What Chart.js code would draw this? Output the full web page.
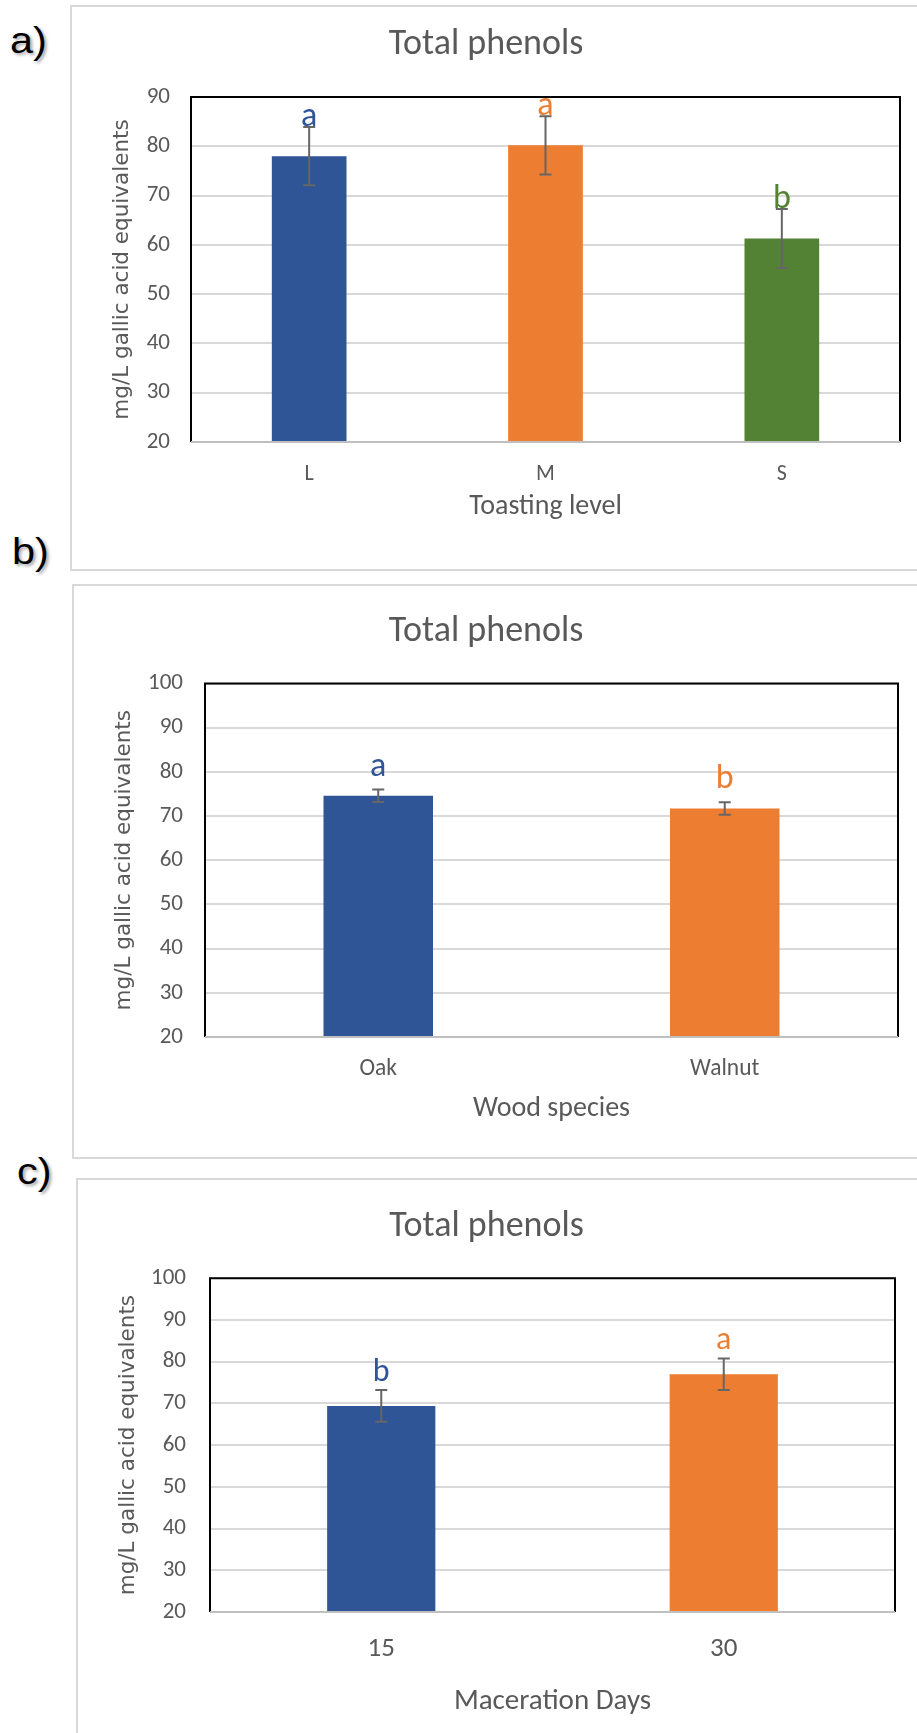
<!DOCTYPE html>
<html>
<head>
<meta charset="utf-8">
<script src="https://cdn.jsdelivr.net/npm/chart.js@4.4.1/dist/chart.umd.min.js"></script>
<style>
  body { margin: 0; width: 917px; height: 1733px; overflow: hidden; background: #fff; position: relative; }
  .frame { position: absolute; border: 2px solid #d9d9d9; box-sizing: border-box; }
  .tag { position: absolute; font-family: Arial, 'Liberation Sans', sans-serif; font-size: 37px; line-height: 1; color: #000;
         text-shadow: 2px 2px 3px rgba(0,0,0,0.35); transform: scaleX(1.12); transform-origin: left top; }
  .holder { position: absolute; }
</style>
</head>
<body>
<div class="frame" style="left:70px;top:5px;width:900px;height:566px"></div>
<div class="frame" style="left:72px;top:584px;width:900px;height:575px"></div>
<div class="frame" style="left:76px;top:1178px;width:900px;height:600px"></div>

<div class="tag" style="left:10px;top:22px">a)</div>
<div class="tag" style="left:12px;top:533px">b)</div>
<div class="tag" style="left:17px;top:1153px">c)</div>

<div class="holder" style="left:72px;top:9px;width:845px;height:560px"><canvas id="chartA"></canvas></div>
<div class="holder" style="left:74px;top:586px;width:843px;height:572px"><canvas id="chartB"></canvas></div>
<div class="holder" style="left:78px;top:1180px;width:839px;height:553px"><canvas id="chartC"></canvas></div>

<script>
// a) toasting level
const toastLevels = ['L', 'M', 'S'];
const toastMeans = [78.0, 80.2, 61.3];
const toastErrors = [5.9, 5.9, 6.0];
const toastLetters = ['a', 'a', 'b'];
const toastTicks = [20, 90, 10];

// b) wood species
const woodSpecies = ['Oak', 'Walnut'];
const woodMeans = [74.6, 71.7];
const woodErrors = [1.4, 1.4];
const woodLetters = ['a', 'b'];
const woodTicks = [20, 100, 10];

// c) maceration days
const macerationDays = ['15', '30'];
const macerationMeans = [69.4, 77.0];
const macerationErrors = [3.8, 3.8];
const macerationLetters = ['b', 'a'];
const macerationTicks = [20, 100, 10];

const barColors = ['#2f5597', '#ed7d31', '#548235'];

const narrow = "Carlito, 'Liberation Sans Narrow', 'Open Sans', sans-serif";
const grey = '#595959';

// error bars + significance letters + plot frame
const extras = {
  id: 'extras',
  afterDatasetsDraw(chart, args, opts) {
    const ctx = chart.ctx;
    const y = chart.scales.y;
    const meta = chart.getDatasetMeta(0);
    const ds = chart.data.datasets[0];
    ctx.save();
    meta.data.forEach((bar, i) => {
      const v = ds.data[i], e = opts.errors[i];
      const top = y.getPixelForValue(v + e);
      const bot = y.getPixelForValue(v - e);
      ctx.strokeStyle = '#666666';
      ctx.lineWidth = 2;
      ctx.beginPath();
      ctx.moveTo(bar.x, top); ctx.lineTo(bar.x, bot);
      ctx.moveTo(bar.x - 6, top); ctx.lineTo(bar.x + 6, top);
      ctx.moveTo(bar.x - 6, bot); ctx.lineTo(bar.x + 6, bot);
      ctx.stroke();
      ctx.fillStyle = barColors[i];
      ctx.font = opts.letterFont;
      ctx.textAlign = 'center';
      ctx.textBaseline = 'alphabetic';
      ctx.fillText(opts.letters[i], bar.x, top - opts.letterGap);
    });
    const a = chart.chartArea;
    ctx.lineWidth = 2;
    ctx.strokeStyle = '#000';
    ctx.beginPath();
    ctx.moveTo(a.left, a.bottom); ctx.lineTo(a.left, a.top);
    ctx.lineTo(a.right, a.top); ctx.lineTo(a.right, a.bottom);
    ctx.stroke();
    ctx.strokeStyle = '#bfbfbf';
    ctx.beginPath();
    ctx.moveTo(a.left, a.bottom); ctx.lineTo(a.right, a.bottom);
    ctx.stroke();
    ctx.restore();
  }
};

function makeChart(id, labels, means, errors, letters, ticks, xTitle, lay) {
  return new Chart(document.getElementById(id), {
    type: 'bar',
    data: {
      labels: labels,
      datasets: [{
        data: means,
        backgroundColor: barColors.slice(0, labels.length),
        categoryPercentage: 1,
        barPercentage: 0.316
      }]
    },
    options: {
      responsive: true,
      maintainAspectRatio: false,
      animation: false,
      layout: { padding: { left: 0, top: 0, right: lay.padRight, bottom: lay.padBottom } },
      plugins: {
        legend: { display: false },
        tooltip: { enabled: false },
        title: {
          display: true,
          text: 'Total phenols',
          color: grey,
          font: { family: narrow, size: 36, weight: 'normal', lineHeight: 1.2 },
          padding: { top: lay.titleTop, bottom: 30.2 }
        },
        extras: {
          errors: errors, letters: letters,
          letterFont: lay.letterSize + 'px ' + narrow, letterGap: lay.letterGap
        }
      },
      scales: {
        x: {
          grid: { display: false, drawTicks: false },
          border: { display: false },
          ticks: { color: grey, padding: lay.xTickPad, font: { family: narrow, size: lay.xTickSize } },
          title: {
            display: true, text: xTitle, color: grey,
            font: { family: narrow, size: lay.xTitleSize, lineHeight: 1.2 },
            padding: { top: 0, bottom: lay.xTitlePad }
          },
          afterFit(s) { s.height = lay.xHeight; }
        },
        y: {
          min: ticks[0], max: ticks[1],
          grid: { color: '#d9d9d9', lineWidth: 2, drawTicks: false },
          border: { display: false },
          ticks: { stepSize: ticks[2], color: grey, padding: lay.yTickPad, font: { family: narrow, size: 23 } },
          title: {
            display: true, text: 'mg/L gallic acid equivalents', color: grey,
            font: { family: "'DejaVu Sans', sans-serif", size: 21.5, lineHeight: 1.2 },
            padding: { top: lay.yTitlePad, bottom: 0 }
          },
          afterFit(s) { s.width = lay.yWidth; }
        }
      }
    },
    plugins: [extras]
  });
}

makeChart('chartA', toastLevels, toastMeans, toastErrors, toastLetters, toastTicks, 'Toasting level', {
  padRight: 17, padBottom: 27, titleTop: 14.6,
  xHeight: 100, xTickPad: 19, xTickSize: 22, xTitleSize: 28, xTitlePad: 18,
  yWidth: 119, yTickPad: 21, yTitlePad: 38, letterSize: 34, letterGap: 1
});

makeChart('chartB', woodSpecies, woodMeans, woodErrors, woodLetters, woodTicks, 'Wood species', {
  padRight: 19, padBottom: 21, titleTop: 24.1,
  xHeight: 100, xTickPad: 18, xTickSize: 23.5, xTitleSize: 28, xTitlePad: 11,
  yWidth: 131, yTickPad: 22, yTitlePad: 37.5, letterSize: 34, letterGap: 14
});

makeChart('chartC', macerationDays, macerationMeans, macerationErrors, macerationLetters, macerationTicks, 'Maceration Days', {
  padRight: 22, padBottom: 1, titleTop: 24.9,
  xHeight: 120, xTickPad: 21, xTickSize: 27, xTitleSize: 29, xTitlePad: 13,
  yWidth: 132, yTickPad: 24, yTitlePad: 37.5, letterSize: 32, letterGap: 9.5
});
</script>
</body>
</html>
